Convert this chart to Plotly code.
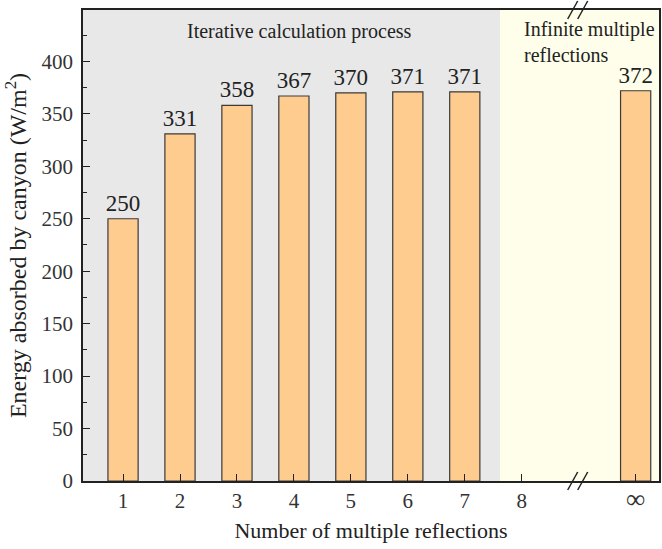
import plotly.graph_objects as go

categories = [1, 2, 3, 4, 5, 6, 7, 10]
values = [250, 331, 358, 367, 370, 371, 371, 372]
tick_vals = [1, 2, 3, 4, 5, 6, 7, 8, 10]
tick_text = ["1", "2", "3", "4", "5", "6", "7", "8", '<span style="font-size:27px">∞</span>']

FONT = "Liberation Serif"

fig = go.Figure()
fig.add_trace(go.Bar(
    x=categories, y=values, width=0.53,
    marker=dict(color="#FFCC90", line=dict(color="#3a3a3a", width=1.2)),
    text=[str(v) for v in values], textposition="outside",
    textfont=dict(family=FONT, size=23, color="#222"),
    constraintext="none",
    cliponaxis=False,
))

x_min, x_max = 0.297, 10.41
split = 7.62

shapes = [
    dict(type="rect", xref="x", yref="paper", x0=x_min, x1=split, y0=0, y1=1,
         fillcolor="#E8E8E8", line=dict(width=0), layer="below"),
    dict(type="rect", xref="x", yref="paper", x0=split, x1=x_max, y0=0, y1=1,
         fillcolor="#FEFEEA", line=dict(width=0), layer="below"),
]
for yanchor in (0, 1):
    for off in (-6, 4):
        shapes.append(dict(type="line", xref="x", yref="paper",
                           xsizemode="pixel", xanchor=9, x0=off - 5, x1=off + 5,
                           ysizemode="pixel", yanchor=yanchor, y0=-9, y1=9,
                           line=dict(color="#222", width=1.5), layer="above"))

fig.update_layout(
    width=662, height=549,
    margin=dict(l=83, r=1, t=10, b=68),
    paper_bgcolor="white", plot_bgcolor="white",
    showlegend=False,
    font=dict(family=FONT, color="#222"),
    shapes=shapes,
    annotations=[
        dict(text="Iterative calculation process", xref="x", yref="paper",
             x=4.1, y=(481 - 32) / 471, showarrow=False, xanchor="center", yanchor="middle",
             font=dict(family=FONT, size=20, color="#222")),
        dict(text="Infinite multiple<br>reflections", xref="x", yref="paper",
             x=8.0, y=(481 - 16) / 471, showarrow=False, xanchor="left", yanchor="top",
             align="left", font=dict(family=FONT, size=20, color="#222")),
    ],
    xaxis=dict(
        range=[x_min, x_max], tickmode="array", tickvals=tick_vals, ticktext=tick_text,
        ticks="inside", ticklen=7, tickwidth=1.3, tickcolor="#222",
        showline=True, linecolor="#222", linewidth=1.5, mirror=True,
        showgrid=False, zeroline=False,
        tickfont=dict(family=FONT, size=21, color="#333"),
        title=dict(text="Number of multiple reflections", font=dict(family=FONT, size=22, color="#222"), standoff=10),
    ),
    yaxis=dict(
        range=[0, 449], tickmode="linear", tick0=0, dtick=50,
        ticks="inside", ticklen=7, tickwidth=1.3, tickcolor="#222",
        minor=dict(ticks="inside", ticklen=4, dtick=25, tickcolor="#222", tickwidth=1.3),
        showline=True, linecolor="#222", linewidth=1.5, mirror=True,
        showgrid=False, zeroline=False,
        tickfont=dict(family=FONT, size=21, color="#333"),
        ticklabelstandoff=4,
        title=dict(text="Energy absorbed by canyon (W/m<sup>2</sup>)", font=dict(family=FONT, size=24, color="#222"), standoff=8),
    ),
)

fig.write_html("out.html")
